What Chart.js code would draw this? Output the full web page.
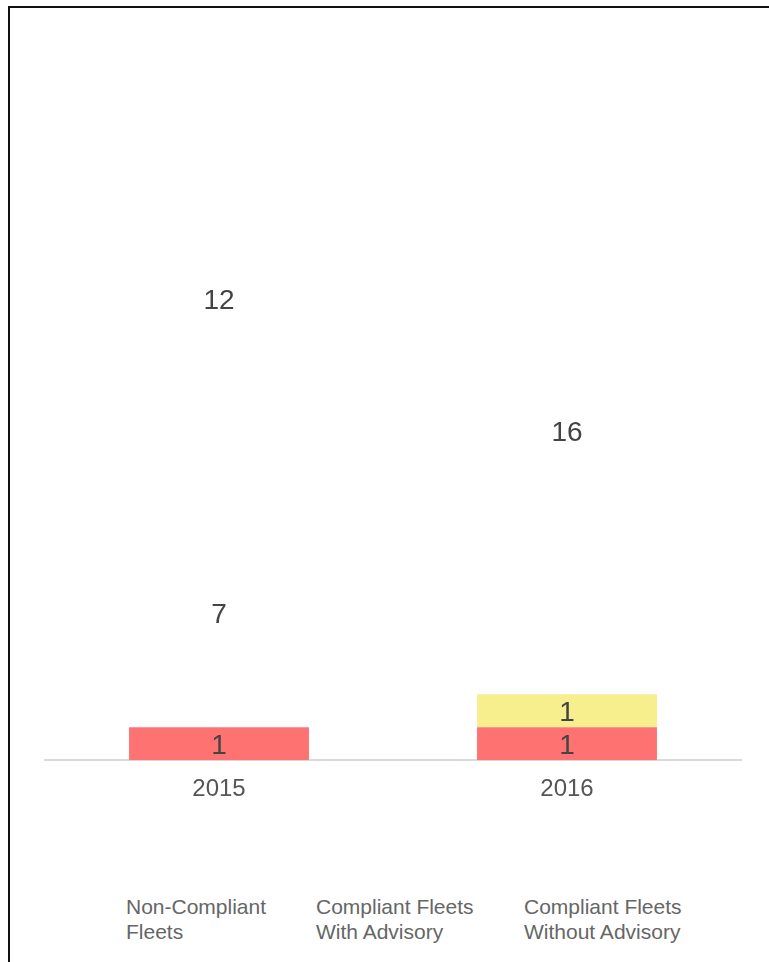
<!DOCTYPE html>
<html>
<head>
<meta charset="utf-8">
<script src="https://cdn.jsdelivr.net/npm/chart.js@4.4.0/dist/chart.umd.min.js"></script>
<style>
  body { margin: 0; background: #fff; font-family: "Liberation Sans", Arial, sans-serif; }
  #frame { position: absolute; left: 8px; top: 6px; width: 900px; height: 1100px;
           border-left: 2px solid #111; border-top: 2px solid #111; }
  #wrap { position: absolute; left: 0; top: 0; width: 769px; height: 830px; }
  .lg { position: absolute; top: 894px; font-size: 21px; line-height: 25px; color: #666; }
</style>
</head>
<body>
<div id="frame"></div>
<div id="wrap"><canvas id="chart"></canvas></div>
<div id="legend"></div>
<script>
// 資料
const years = ['2015', '2016'];
const nonCompliant = [1, 1];
const withAdvisory = [7, 1];
const withoutAdvisory = [12, 16];
const seriesNames = [
    ['Non-Compliant', 'Fleets'],
    ['Compliant Fleets', 'With Advisory'],
    ['Compliant Fleets', 'Without Advisory']
];

// 區段中央的數值標籤
const segmentLabels = {
    id: 'segmentLabels',
    afterDatasetsDraw(chart) {
        const ctx = chart.ctx;
        ctx.save();
        ctx.font = '28px "Liberation Sans", Arial, sans-serif';
        ctx.fillStyle = '#444';
        ctx.textAlign = 'center';
        ctx.textBaseline = 'middle';
        chart.data.datasets.forEach((ds, i) => {
            const meta = chart.getDatasetMeta(i);
            meta.data.forEach((bar, j) => {
                const p = bar.getProps(['x', 'y', 'base'], true);
                ctx.fillText(ds.data[j], p.x, (p.y + p.base) / 2 + 3);
            });
        });
        ctx.restore();
    }
};

const ctx = document.getElementById('chart').getContext('2d');
new Chart(ctx, {
    type: 'bar',
    data: {
        labels: years,
        datasets: [
            { label: seriesNames[0].join(' '), data: nonCompliant, backgroundColor: '#ff7272' },
            { label: seriesNames[1].join(' '), data: withAdvisory, backgroundColor: ['rgba(0,0,0,0)', '#f7ee8e'] },
            { label: seriesNames[2].join(' '), data: withoutAdvisory, backgroundColor: 'rgba(0,0,0,0)' }
        ]
    },
    options: {
        responsive: true,
        maintainAspectRatio: false,
        animation: false,
        barPercentage: 0.517,
        categoryPercentage: 1,
        layout: { padding: { left: 45, right: 28, top: 101, bottom: 11 } },
        scales: {
            x: {
                stacked: true,
                grid: { display: false, drawTicks: false },
                border: { display: true, color: '#dadada', width: 2 },
                ticks: { padding: 15, color: '#555', font: { size: 24, family: '"Liberation Sans", Arial, sans-serif' } }
            },
            y: {
                stacked: true,
                display: false,
                min: 0,
                max: 20
            }
        },
        plugins: {
            legend: { display: false },
            tooltip: { enabled: false }
        }
    },
    plugins: [segmentLabels]
});

// 圖例 (純文字)
const legendX = [126, 316, 524];
const legendBox = document.getElementById('legend');
seriesNames.forEach((lines, i) => {
    const d = document.createElement('div');
    d.className = 'lg';
    d.style.left = legendX[i] + 'px';
    d.innerHTML = lines.join('<br>');
    legendBox.appendChild(d);
});
</script>
</body>
</html>
